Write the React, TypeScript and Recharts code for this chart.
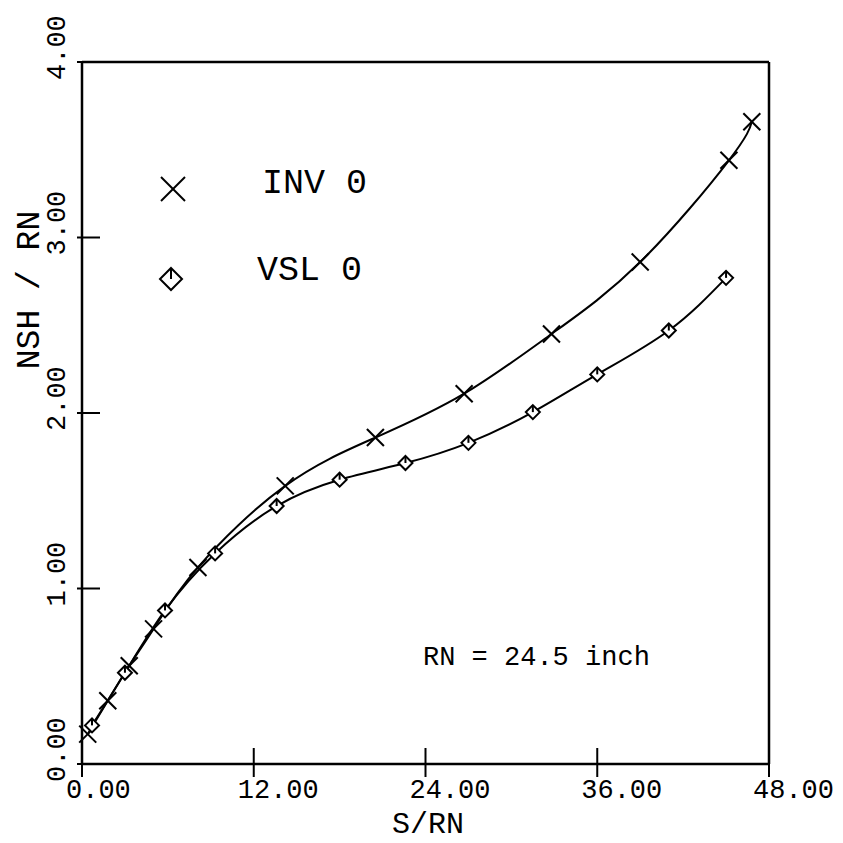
import React from 'react'
import { ComposedChart, Line, XAxis, YAxis } from 'recharts'

// values
const xTicks = [0, 12, 24, 36, 48]
const yTicks = [0, 1, 2, 3, 4]

const invX = [0.4, 1.8, 3.3, 5.0, 8.1, 14.2, 20.5, 26.7, 32.8, 39.0, 45.2, 46.8]
const invY = [0.17, 0.36, 0.56, 0.77, 1.12, 1.585, 1.86, 2.11, 2.45, 2.86, 3.44, 3.66]

const vslX = [0.7, 3.0, 5.8, 9.3, 13.6, 18.0, 22.6, 27.0, 31.5, 36.0, 41.0, 45.0]
const vslY = [0.22, 0.52, 0.875, 1.2, 1.47, 1.62, 1.715, 1.83, 2.005, 2.22, 2.47, 2.77]

const inv = invX.map((x, i) => ({ x, y: invY[i] }))
const vsl = vslX.map((x, i) => ({ x, y: vslY[i] }))

const FONT = '"Liberation Mono", "DejaVu Sans Mono", monospace'
const W = 835
const H = 835

const XMark = ({ cx, cy, r = 8.5 }: any) => (
  <g stroke="#000" strokeWidth={2} fill="none">
    <line x1={cx - r} y1={cy - r} x2={cx + r} y2={cy + r} />
    <line x1={cx - r} y1={cy + r} x2={cx + r} y2={cy - r} />
  </g>
)

const Diamond = ({ cx, cy, r = 7 }: any) => (
  <g stroke="#000" strokeWidth={2} fill="#fff">
    <path d={`M${cx},${cy - r}L${cx + r},${cy}L${cx},${cy + r}L${cx - r},${cy}Z`} />
    <line x1={cx} y1={cy} x2={cx} y2={cy - r} />
  </g>
)

const BottomTick = ({ x, y, payload }: any) => (
  <g>
    <line x1={x} x2={x} y1={y - 16} y2={y + 13} stroke="#000" strokeWidth={2} />
    <text x={x - 16} y={y + 34} fontSize={27} fontFamily={FONT} fill="#000" textAnchor="start">
      {Number(payload.value).toFixed(2)}
    </text>
  </g>
)

const TopTick = ({ x, y }: any) => (
  <line x1={x} x2={x} y1={y} y2={y + 16} stroke="#000" strokeWidth={2} />
)

const LeftTick = ({ x, y, payload }: any) => (
  <g>
    <line x1={x - 5} x2={x + 18} y1={y} y2={y} stroke="#000" strokeWidth={2} />
    <text
      transform={`translate(${x - 17},${y + 18}) rotate(-90)`}
      fontSize={27}
      fontFamily={FONT}
      fill="#000"
      textAnchor="start"
    >
      {Number(payload.value).toFixed(2)}
    </text>
  </g>
)

const RightTick = ({ x, y }: any) => (
  <line x1={x - 17} x2={x} y1={y} y2={y} stroke="#000" strokeWidth={2} />
)

export default function App() {
  return (
    <div style={{ position: 'relative', width: W, height: H, background: '#fff' }}>
      <ComposedChart width={W} height={H} margin={{ top: 0, right: 0, bottom: 0, left: 0 }}>
        <XAxis
          xAxisId="b"
          dataKey="x"
          type="number"
          domain={[0, 48]}
          ticks={xTicks}
          height={79}
          tickSize={0}
          tickMargin={0}
          tickLine={false}
          axisLine={{ stroke: '#000', strokeWidth: 2.5 }}
          tick={<BottomTick />}
          interval={0}
        />
        <XAxis
          xAxisId="t"
          orientation="top"
          type="number"
          domain={[0, 48]}
          ticks={xTicks.slice(1, 4)}
          height={54}
          tickSize={0}
          tickMargin={0}
          tickLine={false}
          axisLine={{ stroke: '#000', strokeWidth: 2.5 }}
          tick={<TopTick />}
          interval={0}
        />
        <YAxis
          yAxisId="l"
          type="number"
          domain={[0, 4]}
          ticks={yTicks}
          width={74}
          tickSize={0}
          tickMargin={0}
          tickLine={false}
          axisLine={{ stroke: '#000', strokeWidth: 2.5 }}
          tick={<LeftTick />}
          interval={0}
        />
        <YAxis
          yAxisId="r"
          orientation="right"
          type="number"
          domain={[0, 4]}
          ticks={yTicks.slice(1, 4)}
          width={74}
          tickSize={0}
          tickMargin={0}
          tickLine={false}
          axisLine={{ stroke: '#000', strokeWidth: 2.5 }}
          tick={<RightTick />}
          interval={0}
        />
        <Line
          data={inv}
          xAxisId="b"
          yAxisId="l"
          dataKey="y"
          type="natural"
          stroke="#000"
          strokeWidth={2}
          isAnimationActive={false}
          dot={(p: any) => <XMark key={`inv-${p.index}`} cx={p.cx} cy={p.cy} />}
          activeDot={false}
        />
        <Line
          data={vsl}
          xAxisId="b"
          yAxisId="l"
          dataKey="y"
          type="natural"
          stroke="#000"
          strokeWidth={2}
          isAnimationActive={false}
          dot={(p: any) => <Diamond key={`vsl-${p.index}`} cx={p.cx} cy={p.cy} />}
          activeDot={false}
        />
      </ComposedChart>
      <svg
        width={W}
        height={H}
        style={{ position: 'absolute', left: 0, top: 0, pointerEvents: 'none' }}
      >
        <XMark cx={165} cy={181} r={12} />
        <text x={254} y={185} fontSize={35} fontFamily={FONT} fill="#000">INV 0</text>
        <Diamond cx={163} cy={271} r={11} />
        <text x={249} y={272} fontSize={35} fontFamily={FONT} fill="#000">VSL 0</text>
        <text x={415} y={657} fontSize={27} fontFamily={FONT} fill="#000">RN = 24.5 inch</text>
        <text x={420} y={825} fontSize={30} fontFamily={FONT} fill="#000" textAnchor="middle">S/RN</text>
        <text
          transform="translate(31,282) rotate(-90)"
          fontSize={33}
          fontFamily={FONT}
          fill="#000"
          textAnchor="middle"
        >
          NSH / RN
        </text>
      </svg>
    </div>
  )
}
